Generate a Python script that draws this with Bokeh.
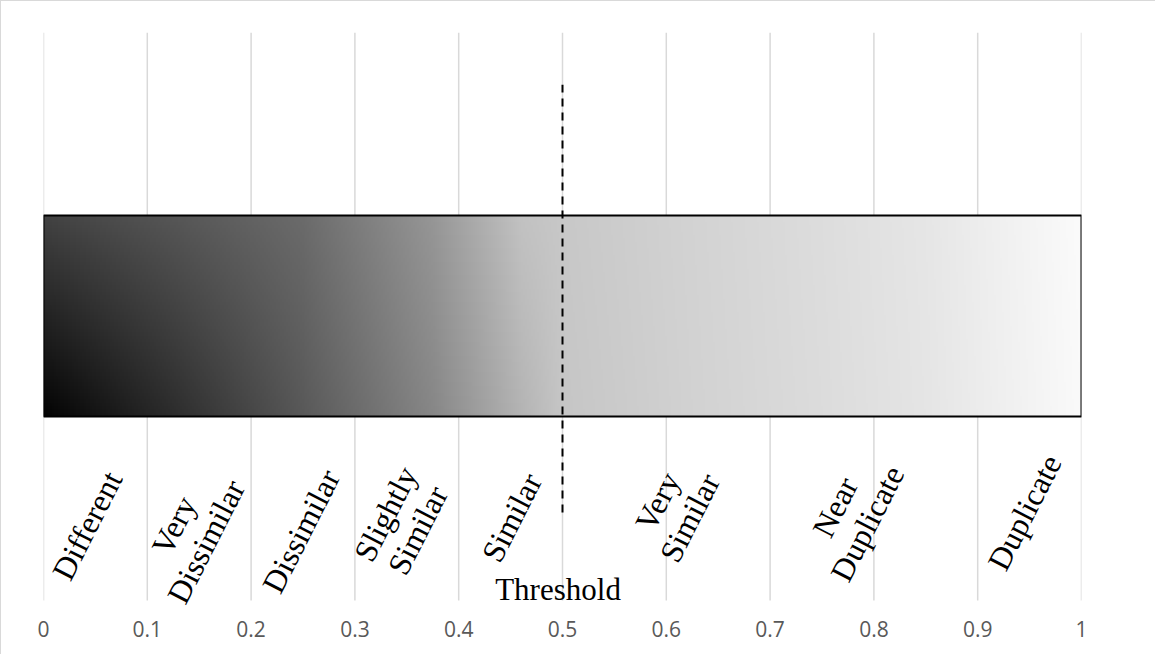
import numpy as np
from bokeh.plotting import figure
from bokeh.models import FixedTicker, Range1d, Label
from bokeh.embed import file_html
from bokeh.resources import INLINE

# ---- data ----
tick_values = [0, 0.1, 0.2, 0.3, 0.4, 0.5, 0.6, 0.7, 0.8, 0.9, 1.0]
tick_labels = ["0", "0.1", "0.2", "0.3", "0.4", "0.5", "0.6", "0.7", "0.8", "0.9", "1"]
categories = ["Different", "Very\nDissimilar", "Dissimilar", "Slightly\nSimilar",
              "Similar", "Very\nSimilar", "Near\nDuplicate", "Duplicate"]
label_x = [0.042, 0.141, 0.248, 0.345, 0.451, 0.607, 0.778, 0.945]
label_y = [0.132, 0.118, 0.122, 0.138, 0.146, 0.160, 0.150, 0.155]
bar_start, bar_end = 0.0, 1.0
bar_bottom, bar_top = 0.324, 0.678
threshold = 0.5
threshold_y = [0.155, 0.908]
threshold_label = "Threshold"
threshold_label_pos = (0.4957, 0.0194)
grid_bottom, grid_top = 0.0, 1.0

# ---- gradient styling (colour stops) ----
grad_x = [0.0, 0.125, 0.25, 0.375, 0.46, 0.5, 0.625, 0.75, 0.85, 1.0]
grad_top = [66, 86, 107, 150, 194, 200, 211, 221, 230, 251]
grad_bottom = [4, 45, 89, 135, 180, 198, 210, 220, 229, 250]

W, H = 520, 60
xs = np.linspace(0, 1, W)
top_row = np.interp(xs, grad_x, grad_top)
bot_row = np.interp(xs, grad_x, grad_bottom)
vfrac = np.linspace(0, 1, H)[:, None]  # 0 = bottom row, 1 = top row
gray = (bot_row[None, :] * (1 - vfrac) + top_row[None, :] * vfrac).astype(np.uint8)
img = np.empty((H, W), dtype=np.uint32)
view = img.view(dtype=np.uint8).reshape((H, W, 4))
view[:, :, 0] = gray
view[:, :, 1] = gray
view[:, :, 2] = gray
view[:, :, 3] = 255

# frame spans 583 px; data 0..1 occupies the top 568 px
p = figure(width=1155, height=654, output_backend="svg", toolbar_location=None,
           x_range=Range1d(0, 1), y_range=Range1d(-15 / 568, 1),
           min_border_left=42, min_border_right=75, min_border_top=31, min_border_bottom=40,
           styles={"border-top": "1px solid #d9d9d9", "border-left": "1px solid #d9d9d9"})
p.outline_line_color = None
p.yaxis.visible = False
p.grid.visible = False

p.xaxis.ticker = FixedTicker(ticks=tick_values)
p.xaxis.major_label_overrides = {v: l for v, l in zip(tick_values, tick_labels)}
p.xaxis.axis_line_color = None
p.xaxis.major_tick_line_color = None
p.xaxis.minor_tick_line_color = None
p.xaxis.major_tick_out = 0
p.xaxis.major_tick_in = 0
p.xaxis.major_label_standoff = 5
p.xaxis.major_label_text_font = "Open Sans"
p.xaxis.major_label_text_font_size = "21px"
p.xaxis.major_label_text_color = "#595959"

# vertical gridlines at the tick values
p.segment(x0=tick_values, y0=[grid_bottom] * len(tick_values),
          x1=tick_values, y1=[grid_top] * len(tick_values),
          line_color="#d9d9d9", line_width=1.5)

# gradient bar
p.image_rgba(image=[img], x=bar_start, y=bar_bottom, dw=bar_end - bar_start, dh=bar_top - bar_bottom)
p.quad(left=[bar_start], right=[bar_end], bottom=[bar_bottom], top=[bar_top],
       fill_alpha=0, line_color="black", line_width=2)

# threshold line
p.line(x=[threshold, threshold], y=threshold_y, line_color="black", line_width=2,
       line_dash="8 6")

# category labels
for txt, lx, ly in zip(categories, label_x, label_y):
    p.add_layout(Label(x=lx, y=ly, text=txt, angle=63, angle_units="deg",
                       text_align="center", text_baseline="middle",
                       text_font="Liberation Serif", text_font_size="32px",
                       text_color="black", text_line_height=1.0))

p.add_layout(Label(x=threshold_label_pos[0], y=threshold_label_pos[1], text=threshold_label,
                   text_align="center", text_baseline="middle",
                   text_font="Liberation Serif", text_font_size="31px", text_color="black"))

open("out.html", "w").write(file_html(p, INLINE))
